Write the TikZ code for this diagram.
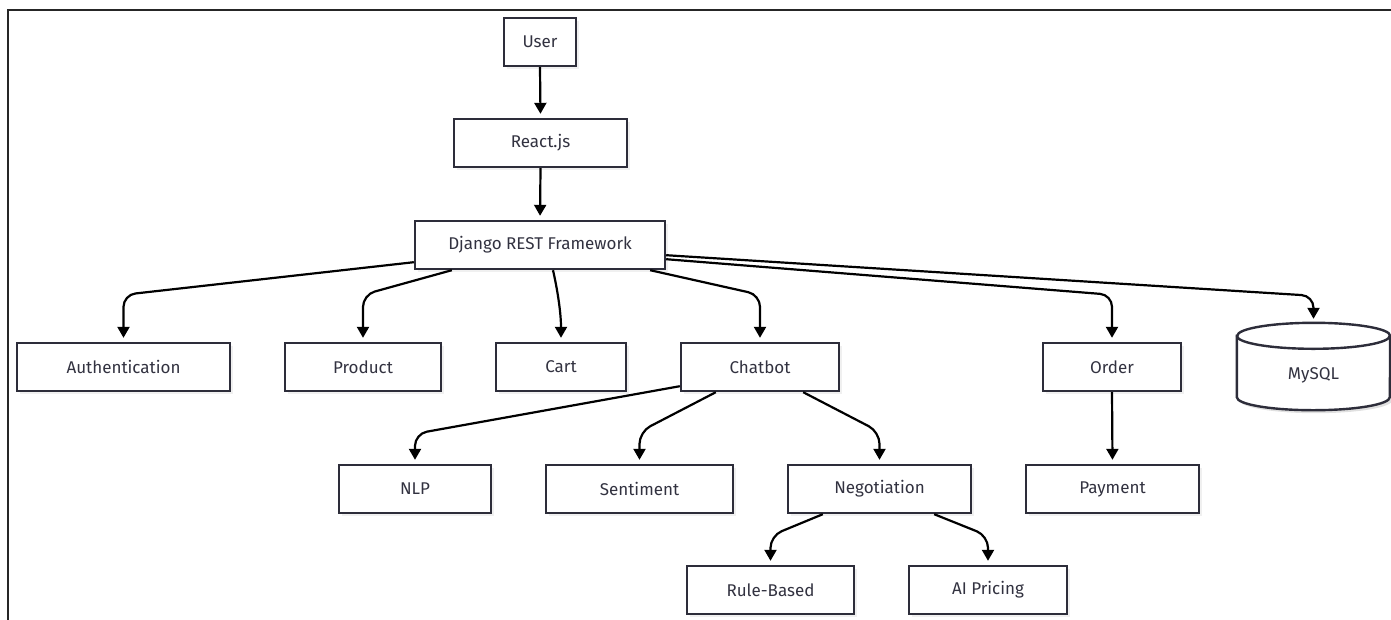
\documentclass[tikz,border=0pt]{standalone}
\usepackage{fontspec}
\setmainfont{Fira Sans}
\usetikzlibrary{arrows.meta,shadows,calc}
\definecolor{boxline}{RGB}{45,45,58}
\definecolor{txt}{RGB}{50,50,64}
\begin{document}
\begin{tikzpicture}[x=1pt,y=-1pt,
  box/.style={draw=boxline, line width=2.4pt, fill=white, minimum height=48pt, inner sep=0pt,
    font=\fontsize{17}{20}\selectfont, text=txt,
    drop shadow={shadow xshift=2.5pt, shadow yshift=-3pt, opacity=0.12}},
  arr/.style={draw=black, line width=2.2pt, -{Triangle[width=12pt,length=11pt]},
    shorten >=4pt, rounded corners=12pt},
  frameline/.style={draw=black!85, line width=2.4pt}]
\useasboundingbox (0,0) rectangle (1391,619);
\begin{scope}
\clip (0,0) rectangle (1391,619);
\draw[frameline] (8,640) -- (8,10) -- (1400,10);
\end{scope}
% nodes
\node[box, minimum width=72pt]  (user)  at (540,42)    {User};
\node[box, minimum width=173pt] (react) at (540.5,143) {React.js};
\node[box, minimum width=250pt] (dj)    at (540,245)   {Django REST Framework};
\node[box, minimum width=213pt] (auth)  at (123.5,367) {Authentication};
\node[box, minimum width=156pt] (prod)  at (363,367)   {Product};
\node[box, minimum width=130pt] (cart)  at (561,367)   {Cart};
\node[box, minimum width=158pt] (chat)  at (760,367)   {Chatbot};
\node[box, minimum width=138pt] (order) at (1112,367)  {Order};
\node[box, minimum width=152pt] (nlp)   at (415,489)   {NLP};
\node[box, minimum width=187pt] (sent)  at (639.5,489) {Sentiment};
\node[box, minimum width=183pt] (nego)  at (879.5,489) {Negotiation};
\node[box, minimum width=173pt] (pay)   at (1112.5,489){Payment};
\node[box, minimum width=167pt] (rule)  at (770.5,590) {Rule-Based};
\node[box, minimum width=158pt] (ai)    at (988,590)   {AI Pricing};
% MySQL cylinder
\node[minimum width=153pt, minimum height=87pt, inner sep=0pt] (mysql) at (1313.5,366.5) {};
\fill[black, opacity=0.12] ($(mysql.north west)+(2.5,13+3)$) -- ($(mysql.south west)+(2.5,-13+3)$)
   arc[start angle=180, end angle=0, x radius=76.5, y radius=13] -- ($(mysql.north east)+(2.5,13+3)$) -- cycle;
\filldraw[fill=white, draw=boxline, line width=2.4pt]
   ($(mysql.north west)+(0,13)$) -- ($(mysql.south west)+(0,-13)$)
   arc[start angle=180, end angle=0, x radius=76.5, y radius=13]
   -- ($(mysql.north east)+(0,13)$)
   arc[start angle=0, end angle=-180, x radius=76.5, y radius=13] -- cycle;
\draw[boxline, line width=2.4pt] ($(mysql.north west)+(0,13)$)
   arc[start angle=180, end angle=0, x radius=76.5, y radius=13];
\node[font=\fontsize{17}{20}\selectfont, text=txt] (mysqltext) at (1313.5,375) {MySQL};
% connectors
\draw[arr] (user.south) -- (react.north);
\draw[arr] (react.south) -- (dj.north);
\draw[arr] ($(dj.south west)+(0,-8)$) -- ($(auth.north)+(0,-47)$) -- (auth.north);
\draw[arr] ($(dj.south west)+(38,0)$) -- ($(prod.north)+(0,-47)$) -- (prod.north);
\draw[arr] ($(dj.south)+(13,0)$) .. controls +(5,22) and +(0,-28) .. (cart.north);
\draw[arr] ($(dj.south east)+(-16,0)$) -- ($(chat.north)+(0,-47)$) -- (chat.north);
\draw[arr] ($(dj.south east)+(0,-11)$) -- ($(order.north)+(0,-47)$) -- (order.north);
\draw[arr] ($(dj.south east)+(0,-15)$) -- ($(mysql.north)+(0,-27)$) -- (mysql.north);
\draw[arr] ($(chat.south west)+(0,-6)$) -- ($(nlp.north)+(0,-30)$) -- (nlp.north);
\draw[arr] ($(chat.south west)+(36,0)$) -- ($(sent.north)+(0,-32)$) -- (sent.north);
\draw[arr] ($(chat.south east)+(-37,0)$) -- ($(nego.north)+(0,-32)$) -- (nego.north);
\draw[arr] (order.south) -- (pay.north);
\draw[arr] ($(nego.south west)+(36,0)$) -- ($(rule.north)+(0,-29)$) -- (rule.north);
\draw[arr] ($(nego.south east)+(-38,0)$) -- ($(ai.north)+(0,-29)$) -- (ai.north);
\end{tikzpicture}
\end{document}
